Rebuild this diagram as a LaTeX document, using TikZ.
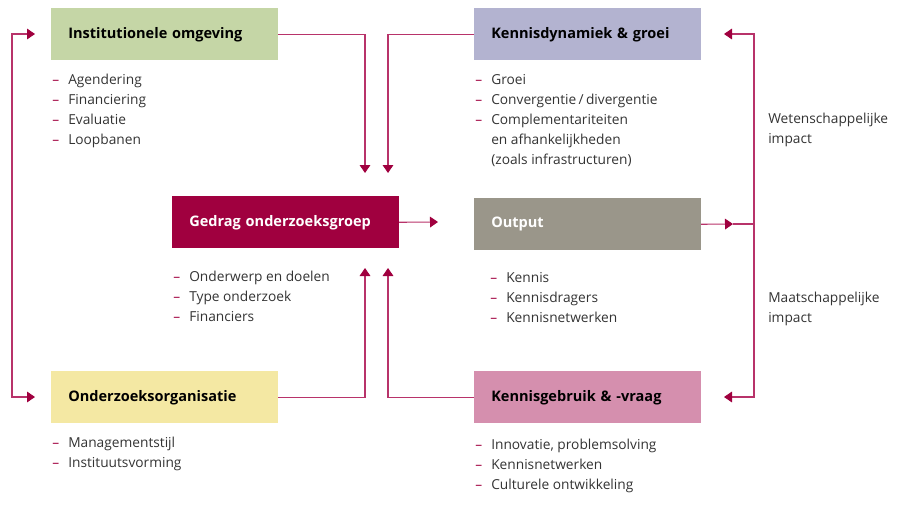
\documentclass[tikz,border=0pt]{standalone}
\usepackage{fontspec}
\setmainfont{Open Sans}
\usepackage{tikz}
\usetikzlibrary{arrows.meta}

\definecolor{crimson}{HTML}{A0003F}
\definecolor{linkcol}{HTML}{B8336A}
\definecolor{instgreen}{HTML}{C5D6A6}
\definecolor{dynblue}{HTML}{B3B3D0}
\definecolor{outgrey}{HTML}{9A968A}
\definecolor{orgyellow}{HTML}{F4E8A3}
\definecolor{usepink}{HTML}{D58FAE}
\definecolor{txt}{HTML}{333333}

\newcommand{\itm}[1]{\makebox[12pt][l]{\color{crimson}--}#1}
\newcommand{\cont}[1]{\makebox[12pt][l]{}#1}

\begin{document}
\begin{tikzpicture}
        [
        x=0.75pt, y=-0.75pt,
        box/.style={anchor=north west,minimum width=170pt,minimum height=39pt,
          inner xsep=12.75pt,text width=144.5pt,align=left,
          font=\fontsize{10.9}{12}\selectfont\bfseries},
        list/.style={anchor=north west,inner sep=0pt,align=left,text=txt,
          font=\fontsize{10.3}{15}\selectfont},
        link/.style={draw=linkcol,line width=0.8pt},
        tip/.style={-{Triangle[length=6pt,width=8pt,color=crimson]}},
        tips/.style={{Triangle[length=6pt,width=8pt,color=crimson]}-{Triangle[length=6pt,width=8pt,color=crimson]}}
        ]
    \useasboundingbox (0,0) rectangle (904,521);

    % boxes
    \node[box,fill=instgreen] (inst) at (51,8) {Institutionele omgeving};
    \node[box,fill=dynblue] (dyn) at (474,8) {Kennisdynamiek \& groei};
    \node[box,fill=crimson,text=white] (gedrag) at (172,196) {Gedrag onderzoeksgroep};
    \node[box,fill=outgrey,text=white] (output) at (474,198) {Output};
    \node[box,fill=orgyellow] (org) at (51,371) {Onderzoeksorganisatie};
    \node[box,fill=usepink] (use) at (474,371) {Kennisgebruik \& -vraag};

    % lists
    \node[list] (instl) at (52,74) {\itm{Agendering}\\ \itm{Financiering}\\ \itm{Evaluatie}\\ \itm{Loopbanen}};
    \node[list] (dynl) at (475,74) {\itm{Groei}\\ \itm{Convergentie\,/\,divergentie}\\ \itm{Complementariteiten}\\ \cont{en afhankelijkheden}\\ \cont{(zoals infrastructuren)}};
    \node[list] (gedragl) at (173,271) {\itm{Onderwerp en doelen}\\ \itm{Type onderzoek}\\ \itm{Financiers}};
    \node[list] (outputl) at (490,272) {\itm{Kennis}\\ \itm{Kennisdragers}\\ \itm{Kennisnetwerken}};
    \node[list] (orgl) at (52,437) {\itm{Managementstijl}\\ \itm{Instituutsvorming}};
    \node[list] (usel) at (475,439) {\itm{Innovatie, problemsolving}\\ \itm{Kennisnetwerken}\\ \itm{Culturele ontwikkeling}};
    \node[list] (wet) at (768,113) {Wetenschappelijke\\ impact};
    \node[list] (maat) at (768,292) {Maatschappelijke\\ impact};

    % free ends
    \coordinate (intop1) at (365,173);
    \coordinate (intop2) at (388,173);
    \coordinate (inbot1) at (365,268);
    \coordinate (inbot2) at (388,268);
    \coordinate (outtip) at (438,222);
    \coordinate (midtip) at (733,224);
    \coordinate (split) at (754,224);
    \coordinate (dyntip) at (724,34);
    \coordinate (usetip) at (724,397);
    \coordinate (insttip) at (35,34);
    \coordinate (orgtip) at (35,397);
    \coordinate (leftbar) at (12,200);

    % connectors
    \draw[link,tip] (inst.east) -| (intop1);
    \draw[link,tip] (dyn.west) -| (intop2);
    \draw[link,tip] (org.east) -| (inbot1);
    \draw[link,tip] (use.west) -| (inbot2);
    \draw[link,tip] (gedrag.east) -- (outtip);
    \draw[link,tip] (output.east) -- (midtip);
    \draw[link] (midtip) -- (split);
    \draw[link,tips] (dyntip) -| (split) |- (usetip);
    \draw[link,tips] (insttip) -| (leftbar) |- (orgtip);
    \end{tikzpicture}
\end{document}
